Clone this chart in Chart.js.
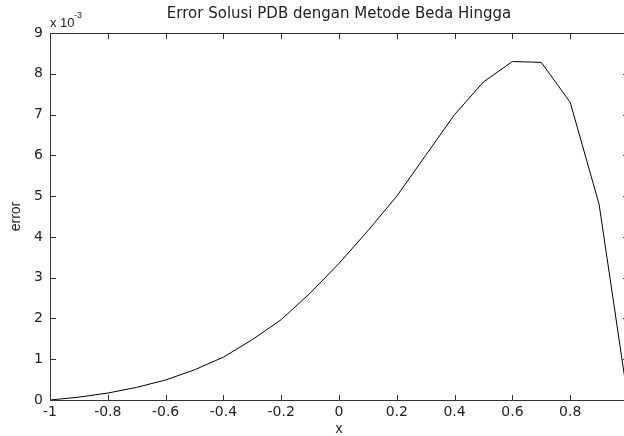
<!DOCTYPE html>
<html>
<head>
<meta charset="utf-8">
<script src="https://cdn.jsdelivr.net/npm/chart.js@4/dist/chart.umd.min.js"></script>
<style>
html,body{margin:0;padding:0;background:#fff;overflow:hidden;}
#wrap{width:678px;height:436px;}
</style>
</head>
<body>
<div id="wrap"><canvas id="c" width="678" height="436"></canvas></div>
<script>
// x positions (finite-difference grid) and error values (x 10^-3)
const xValues = [-1, -0.9, -0.8, -0.7, -0.6, -0.5, -0.4, -0.3, -0.2, -0.1, 0, 0.1, 0.2, 0.3, 0.4, 0.5, 0.6, 0.7, 0.8, 0.9, 1];
const errorValues = [0, 0.07, 0.17, 0.31, 0.49, 0.74, 1.05, 1.48, 1.97, 2.62, 3.35, 4.15, 5.0, 6.0, 7.0, 7.8, 8.3, 8.28, 7.3, 4.8, 0];
const xTicks = [-1, -0.8, -0.6, -0.4, -0.2, 0, 0.2, 0.4, 0.6, 0.8, 1];
const xTickLabels = ['-1', '-0.8', '-0.6', '-0.4', '-0.2', '0', '0.2', '0.4', '0.6', '0.8', '1'];
const yTicks = [0, 1, 2, 3, 4, 5, 6, 7, 8, 9];
const yTickLabels = ['0', '1', '2', '3', '4', '5', '6', '7', '8', '9'];
const titleText = 'Error Solusi PDB dengan Metode Beda Hingga';
const xLabel = 'x';
const yLabel = 'error';

const FONT = "'Liberation Sans', Arial, Helvetica, sans-serif";
const WIDE = "'DejaVu Sans', Verdana, sans-serif";
const AXIS_COLOR = '#333333';
const TEXT_COLOR = '#222222';

const boxPlugin = {
  id: 'matlabBox',
  afterDraw(chart) {
    const ctx = chart.ctx;
    const a = chart.chartArea;
    const xs = chart.scales.x, ys = chart.scales.y;
    const l = Math.round(a.left), r = Math.round(a.right), t = Math.round(a.top), b = Math.round(a.bottom);
    ctx.save();
    ctx.fillStyle = AXIS_COLOR;
    ctx.fillRect(l, t, r - l + 1, 1);
    ctx.fillRect(l, b, r - l + 1, 1);
    ctx.fillRect(l, t, 1, b - t + 1);
    ctx.fillRect(r, t, 1, b - t + 1);
    const L = 5;
    xs.ticks.forEach(tk => {
      const px = Math.round(xs.getPixelForValue(tk.value));
      ctx.fillRect(px, b - L, 1, L);
      ctx.fillRect(px, t + 1, 1, L);
    });
    ys.ticks.forEach(tk => {
      const py = Math.round(ys.getPixelForValue(tk.value));
      ctx.fillRect(l + 1, py, L, 1);
      ctx.fillRect(r - L, py, L, 1);
    });
    // exponent label
    ctx.fillStyle = TEXT_COLOR;
    ctx.textBaseline = 'alphabetic';
    ctx.textAlign = 'left';
    ctx.font = '13px ' + FONT;
    ctx.fillText('x 10', l, 26.5);
    ctx.font = '9px ' + FONT;
    ctx.fillText('-3', l + 24, 17.5);
    ctx.restore();
  }
};

new Chart(document.getElementById('c'), {
  type: 'line',
  data: {
    datasets: [{
      data: xValues.map((x, i) => ({x: x, y: errorValues[i]})),
      borderColor: '#000000',
      borderWidth: 1,
      pointRadius: 0,
      tension: 0,
      fill: false
    }]
  },
  options: {
    responsive: false,
    devicePixelRatio: 1,
    animation: false,
    layout: {padding: 0},
    plugins: {
      legend: {display: false},
      tooltip: {enabled: false},
      title: {
        display: true,
        text: titleText,
        color: TEXT_COLOR,
        font: {family: WIDE, size: 15, weight: 'normal', lineHeight: 1.2},
        padding: {top: 5, bottom: 10}
      }
    },
    scales: {
      x: {
        type: 'linear',
        position: 'bottom',
        min: -1, max: 1,
        afterBuildTicks: s => { s.ticks = xTicks.map(v => ({value: v})); },
        afterFit: s => { s.height = 36; },
        grid: {display: false, drawTicks: false},
        border: {display: false},
        ticks: {
          padding: 4,
          color: TEXT_COLOR,
          font: {family: WIDE, size: 14},
          maxRotation: 0,
          autoSkip: false,
          callback: (v, i) => xTickLabels[i]
        },
        title: {
          display: true, text: xLabel, color: TEXT_COLOR,
          font: {family: FONT, size: 14, lineHeight: 1.0},
          padding: {top: 0, bottom: 0}
        }
      },
      y: {
        type: 'linear',
        position: 'left',
        min: 0, max: 9,
        afterBuildTicks: s => { s.ticks = yTicks.map(v => ({value: v})); },
        afterFit: s => { s.width = 50; },
        grid: {display: false, drawTicks: false},
        border: {display: false},
        ticks: {
          padding: 7,
          color: TEXT_COLOR,
          font: {family: WIDE, size: 14},
          autoSkip: false,
          callback: (v, i) => yTickLabels[i]
        },
        title: {
          display: true, text: yLabel, color: TEXT_COLOR,
          font: {family: FONT, size: 14, lineHeight: 1.2},
          padding: {top: 8, bottom: 0}
        }
      },
      yRight: {
        type: 'linear',
        position: 'right',
        min: 0, max: 9,
        afterFit: s => { s.width = 50; },
        grid: {display: false, drawTicks: false},
        border: {display: false},
        ticks: {display: false}
      }
    }
  },
  plugins: [boxPlugin]
});
</script>
</body>
</html>
